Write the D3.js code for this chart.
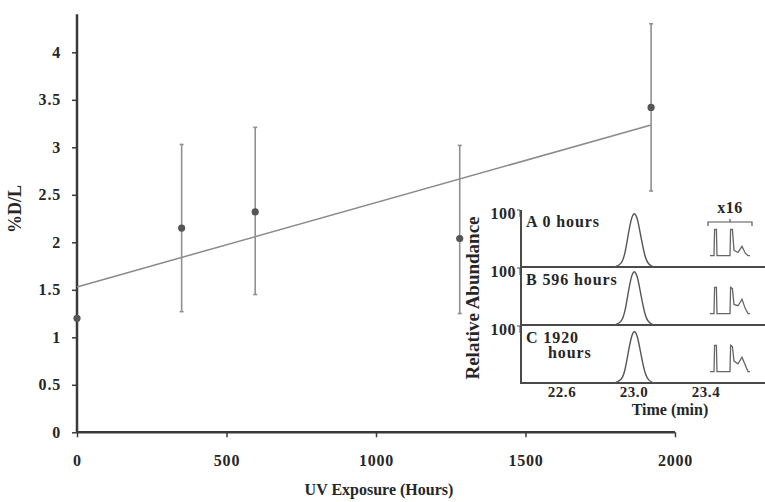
<!DOCTYPE html>
<html>
<head>
<meta charset="utf-8">
<script src="https://cdn.jsdelivr.net/npm/d3@7"></script>
<style>
  body { margin: 0; background: #fff; }
  svg text { font-family: "Liberation Serif", "Times New Roman", serif; font-weight: bold; fill: #262626; }
</style>
</head>
<body>
<div class="chartContainer"></div>
<script>
// ======= data ========
var hours = [0, 350, 596, 1280, 1920];
var percentDL = [1.2, 2.15, 2.32, 2.04, 3.42];
var errUpper = [0, 0.88, 0.89, 0.98, 0.88];
var errLower = [0, 0.88, 0.87, 0.79, 0.88];
var fitIntercept = 1.53;
var fitSlope = 0.000888;
var yTicks = [0, 0.5, 1, 1.5, 2, 2.5, 3, 3.5, 4];
var xTicks = [0, 500, 1000, 1500, 2000];

// inset chromatograms
var panelLabels = [["A  0 hours"], ["B  596 hours"], ["C  1920", "hours"]];
var timeTicks = [22.6, 23.0, 23.4];
var peakTimes = [22.89, 22.93, 22.95, 22.97, 22.99, 23.005, 23.02, 23.04, 23.06, 23.08, 23.11];
var peakA = [0, 4, 22, 62, 92, 95, 85, 50, 18, 4, 0];
var peakB = [0, 4, 22, 62, 92, 95, 85, 50, 18, 4, 0];
var peakC = [0, 4, 20, 58, 88, 92, 82, 48, 17, 4, 0];
// x16 magnified traces, local position 0..1
var miniPos = [0, 0.1, 0.115, 0.16, 0.175, 0.5, 0.515, 0.56, 0.6, 0.7, 0.8, 0.88, 0.95, 1];
var miniA = [0, 0, 100, 100, 0, 0, 100, 100, 20, 12, 35, 10, 0, 0];
var miniB = [0, 0, 100, 100, 0, 0, 100, 95, 35, 30, 55, 20, 0, 0];
var miniC = [0, 0, 100, 100, 0, 0, 100, 95, 40, 30, 55, 25, 0, 0];

var width = 765;
var height = 502;

var svg = d3.select(".chartContainer")
  .append("svg")
    .attr("width", width)
    .attr("height", height);

// ======= main scales ========
var x = d3.scaleLinear().domain([0, 2000]).range([77, 675]);
var y = d3.scaleLinear().domain([0, 4.4]).range([432.3, 14.3]);

// axes
var yAxis = svg.append("g")
    .attr("transform", "translate(" + x(0) + ",0)")
    .call(d3.axisLeft(y).tickValues(yTicks).tickSize(5).tickPadding(11).tickFormat(d3.format("")));
yAxis.select(".domain").attr("stroke", "#3a3a3a").attr("stroke-width", 2.5).attr("d", "M0," + y(4.4) + "V" + y(0));
yAxis.selectAll(".tick line").attr("stroke", "#3a3a3a").attr("stroke-width", 1.5);
yAxis.selectAll(".tick text").style("font-size", "16px").style("letter-spacing", "0.8px").attr("fill", "#262626");

var xAxis = svg.append("g")
    .attr("transform", "translate(0," + y(0) + ")")
    .call(d3.axisBottom(x).tickValues(xTicks).tickSize(5).tickPadding(17).tickFormat(d3.format("d")));
xAxis.select(".domain").attr("stroke", "#3a3a3a").attr("stroke-width", 2.5).attr("d", "M" + x(0) + ",0H" + x(2000));
xAxis.selectAll(".tick line").attr("stroke", "#3a3a3a").attr("stroke-width", 1.5);
xAxis.selectAll(".tick text").style("font-size", "16px").style("letter-spacing", "0.8px").attr("fill", "#262626");

svg.append("text")
    .attr("transform", "translate(21," + y(2.35) + ") rotate(-90)")
    .attr("text-anchor", "middle")
    .style("font-size", "18px")
    .text("%D/L");

svg.append("text")
    .attr("x", x(1010))
    .attr("y", 495)
    .attr("text-anchor", "middle")
    .style("font-size", "16px")
    .text("UV Exposure (Hours)");

// fit line
svg.append("line")
    .attr("x1", x(0)).attr("y1", y(fitIntercept))
    .attr("x2", x(1920)).attr("y2", y(fitIntercept + fitSlope * 1920))
    .attr("stroke", "#8a8a8a")
    .attr("stroke-width", 1.5);

// error bars
var points = hours.map(function(h, i) {
    return { h: h, v: percentDL[i], hi: percentDL[i] + errUpper[i], lo: percentDL[i] - errLower[i] };
});

var eb = svg.selectAll(".errbar")
    .data(points.filter(function(d) { return d.hi > d.lo; }))
  .enter().append("g")
    .attr("class", "errbar");
eb.append("line")
    .attr("x1", function(d) { return x(d.h); }).attr("x2", function(d) { return x(d.h); })
    .attr("y1", function(d) { return y(d.hi); }).attr("y2", function(d) { return y(d.lo); })
    .attr("stroke", "#909090").attr("stroke-width", 1.6);
eb.selectAll(".cap")
    .data(function(d) { return [[d.h, d.hi], [d.h, d.lo]]; })
  .enter().append("line")
    .attr("x1", function(d) { return x(d[0]) - 2; }).attr("x2", function(d) { return x(d[0]) + 2; })
    .attr("y1", function(d) { return y(d[1]); }).attr("y2", function(d) { return y(d[1]); })
    .attr("stroke", "#909090").attr("stroke-width", 1.6);

svg.selectAll(".dot")
    .data(points)
  .enter().append("circle")
    .attr("class", "dot")
    .attr("cx", function(d) { return x(d.h); })
    .attr("cy", function(d) { return y(d.v); })
    .attr("r", 3.6)
    .attr("fill", "#555");

// ======= inset ========
var t = d3.scaleLinear().domain([22.6, 23.4]).range([562, 706]);
var tLeft = t.invert(521);
var tRight = t.invert(765);
var panelTops = [210, 268, 326];
var panelH = 57;
var peaks = [peakA, peakB, peakC];
var minis = [miniA, miniB, miniC];
var mx = d3.scaleLinear().domain([0, 1]).range([710, 750]);

var inset = svg.append("g").attr("class", "inset");

panelTops.forEach(function(top, i) {
    var py = d3.scaleLinear().domain([0, 100]).range([top + panelH, top]);
    var g = inset.append("g");

    // axis frame: left vertical + baseline
    g.append("path")
        .attr("d", "M" + t(tLeft) + "," + py(100) + "V" + py(0) + "H" + t(tRight))
        .attr("fill", "none").attr("stroke", "#4a4a4a").attr("stroke-width", 2);
    g.append("path")
        .attr("d", "M" + (t(tLeft) - 4) + "," + py(100) + "h3v7")
        .attr("fill", "none").attr("stroke", "#4a4a4a").attr("stroke-width", 1);
    g.append("text")
        .attr("x", t(tLeft) - 5)
        .attr("y", py(100) + 9)
        .attr("text-anchor", "end")
        .style("font-size", "16px")
        .style("letter-spacing", "0.5px")
        .text("100");

    g.append("text")
        .attr("y", py(100) + 17)
        .style("font-size", "16px")
        .style("letter-spacing", "0.9px")
        .selectAll("tspan")
        .data(panelLabels[i])
      .enter().append("tspan")
        .attr("x", function(d, j) { return j === 0 ? t(tLeft) + 5 : t(tLeft) + 27; })
        .attr("dy", function(d, j) { return j === 0 ? 0 : 15; })
        .text(function(d) { return d; });

    var line = d3.line()
        .x(function(d) { return t(d[0]); })
        .y(function(d) { return py(d[1]); })
        .curve(d3.curveBasis);
    g.append("path")
        .datum(peakTimes.map(function(tt, k) { return [tt, peaks[i][k]]; }))
        .attr("d", line)
        .attr("fill", "none").attr("stroke", "#555").attr("stroke-width", 1.4);

    // magnified trace
    var my = d3.scaleLinear().domain([0, 100]).range([py(20), py(66)]);
    g.append("path")
        .datum(miniPos.map(function(p, k) { return [p, minis[i][k]]; }))
        .attr("d", d3.line().x(function(d) { return mx(d[0]); }).y(function(d) { return my(d[1]); }))
        .attr("fill", "none").attr("stroke", "#666").attr("stroke-width", 1.3);
});

// x16 bracket
var bracketY = panelTops[0] + 12;
inset.append("path")
    .attr("d", "M" + (mx(0) - 2) + "," + (bracketY + 4) + "V" + bracketY + "H" + (mx(1) + 2) + "V" + (bracketY + 4) +
               "M" + mx(0.5) + "," + bracketY + "v-3")
    .attr("fill", "none").attr("stroke", "#555").attr("stroke-width", 1.2);
inset.append("text")
    .attr("x", mx(0.5)).attr("y", bracketY - 9)
    .attr("text-anchor", "middle")
    .style("font-size", "16px")
    .style("letter-spacing", "0.5px")
    .text("x16");

// inset time axis labels
inset.selectAll(".tlabel")
    .data(timeTicks)
  .enter().append("text")
    .attr("class", "tlabel")
    .attr("x", function(d) { return t(d); })
    .attr("y", 397)
    .attr("text-anchor", "middle")
    .style("font-size", "15px")
    .style("letter-spacing", "0.6px")
    .text(function(d) { return d3.format(".1f")(d); });

inset.append("text")
    .attr("x", t(23.2))
    .attr("y", 415)
    .attr("text-anchor", "middle")
    .style("font-size", "16px")
    .text("Time (min)");

inset.append("text")
    .attr("transform", "translate(479,298) rotate(-90)")
    .attr("text-anchor", "middle")
    .style("font-size", "19px")
    .text("Relative Abundance");
</script>
</body>
</html>
